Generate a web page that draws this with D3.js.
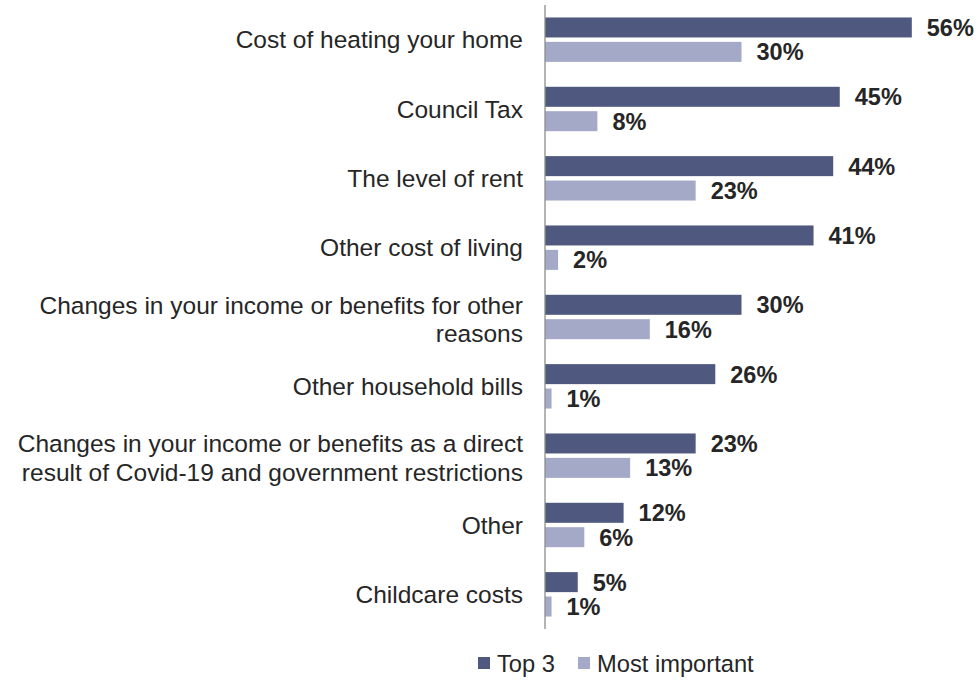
<!DOCTYPE html>
<html><head><meta charset="utf-8">
<script src="https://cdn.jsdelivr.net/npm/d3@7"></script>
<style>body{margin:0;background:#fff;} text{font-family:"Liberation Sans",Arial,sans-serif;}</style>
</head><body>
<svg id="c" width="978" height="681"></svg>
<script>
const categories = [
  ["Cost of heating your home"],
  ["Council Tax"],
  ["The level of rent"],
  ["Other cost of living"],
  ["Changes in your income or benefits for other", "reasons"],
  ["Other household bills"],
  ["Changes in your income or benefits as a direct", "result of Covid-19 and government restrictions"],
  ["Other"],
  ["Childcare costs"]
];
const top3 = [56, 45, 44, 41, 30, 26, 23, 12, 5];
const mostImportant = [30, 8, 23, 2, 16, 1, 13, 6, 1];
const seriesNames = ["Top 3", "Most important"];
const colors = ["#4F587E", "#A3A9C6"];

const svg = d3.select("#c");
const x = d3.scaleLinear().domain([0, 60]).range([545, 938]);
const y = d3.scaleBand().domain(d3.range(categories.length)).range([5, 629]).paddingInner(0).paddingOuter(0);
const barH = 20, gap = 4.4;
const offset = (y.bandwidth() - (2 * barH + gap)) / 2;

const g = svg.append("g");
categories.forEach((c, i) => {
  const y0 = y(i) + offset;
  const vals = [top3[i], mostImportant[i]];
  vals.forEach((v, k) => {
    const yy = y0 + k * (barH + gap);
    g.append("rect").attr("x", x(0)).attr("y", yy).attr("width", x(v) - x(0)).attr("height", barH).attr("fill", colors[k]);
    g.append("text").attr("x", x(v) + 15).attr("y", yy + barH / 2 + 8.5).attr("font-size", 23.5).attr("font-weight", "bold").attr("fill", "#262626").text(v + "%");
  });
  const cy = y(i) + y.bandwidth() / 2;
  const lh = 28.5;
  const t = g.append("text").attr("text-anchor", "end").attr("font-size", 24.5).attr("fill", "#262626");
  c.forEach((line, j) => {
    t.append("tspan").attr("x", 523).attr("y", cy + (j - (c.length - 1) / 2) * lh + 8.5 + (c.length > 1 ? 2.5 : 0)).text(line);
  });
});
svg.append("line").attr("x1", x(0)).attr("x2", x(0)).attr("y1", 5).attr("y2", 629).attr("stroke", "#8c8c8c").attr("stroke-width", 1.3);

const legend = svg.append("g");
const litems = [{x: 478, name: seriesNames[0], c: colors[0]}, {x: 578, name: seriesNames[1], c: colors[1]}];
litems.forEach(d => {
  legend.append("rect").attr("x", d.x).attr("y", 657).attr("width", 12).attr("height", 12).attr("fill", d.c);
  legend.append("text").attr("x", d.x + 19).attr("y", 672).attr("font-size", 23.7).attr("fill", "#262626").text(d.name);
});
</script>
</body></html>
